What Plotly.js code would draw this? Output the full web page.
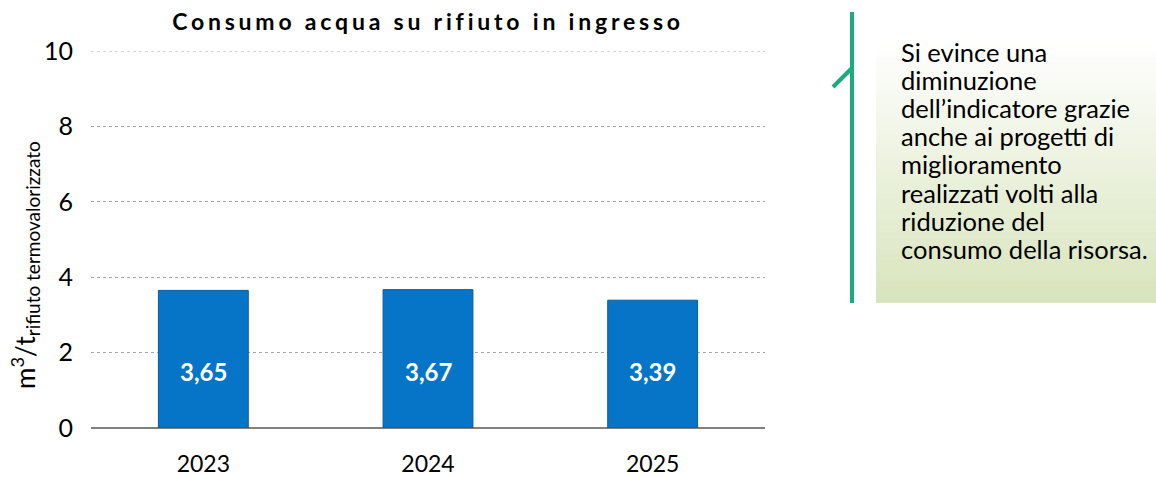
<!DOCTYPE html>
<html><head><meta charset="utf-8">
<script src="https://cdn.plot.ly/plotly-3.0.1.min.js"></script>
<style>
html,body{margin:0;padding:0;background:#fff;}
#chart{width:1156px;height:477px;}
.gtitle{letter-spacing:3.8px;}
</style>
</head><body>
<div id="chart"></div>
<script>
const years = ['2023','2024','2025'];
const values = [3.65, 3.67, 3.39];
const valueLabels = ['3,65','3,67','3,39'];
const chartTitle = 'Consumo acqua su rifiuto in ingresso';
const yTitleMain = 'm<sup>3</sup>/t';
const yTitleSub = 'rifiuto termovalorizzato';
const noteLines = ['Si evince una','diminuzione','dell\u2019indicatore grazie','anche ai progetti di','miglioramento','realizzati volti alla','riduzione del','consumo della risorsa.'];

const W = 1156, H = 477;
const L = 91, R = 765, T = 51, B = 428;
const px = x => (x - L) / (R - L);
const py = y => (B - y) / (B - T);

const FONT = 'Lato, "Open Sans", sans-serif';
const xIdx = years.map((_, i) => i);

const shapes = [];
// gradient background of note box
const nb = 48, gTop = 40, gBot = 303;
for (let i = 0; i < nb; i++) {
  const t = (i + 0.5) / nb;
  const r = Math.round(255 + (216 - 255) * t);
  const g = Math.round(255 + (228 - 255) * t);
  const b = Math.round(255 + (188 - 255) * t);
  const y0 = gTop + (gBot - gTop) * i / nb;
  const y1 = Math.min(gTop + (gBot - gTop) * (i + 1) / nb + 0.5, gBot);
  shapes.push({type:'rect', xref:'paper', yref:'paper', x0:px(876), x1:px(1156), y0:py(y0), y1:py(y1),
    fillcolor:`rgb(${r},${g},${b})`, line:{width:0}, layer:'below'});
}
shapes.push({type:'line', xref:'paper', yref:'paper', x0:px(852), x1:px(852), y0:py(12), y1:py(303), line:{color:'#1aab80', width:4}});
shapes.push({type:'line', xref:'paper', yref:'paper', x0:px(833), x1:px(853), y0:py(87), y1:py(67), line:{color:'#1aab80', width:4}});
// top gridline at 10
shapes.push({type:'line', xref:'paper', yref:'y', x0:0, x1:1, y0:10, y1:10, line:{color:'#a6a6a6', width:1, dash:'dot'}});

const annotations = [];
values.forEach((v, i) => {
  annotations.push({x: xIdx[i], y: 1.5, xref:'x', yref:'y', text: '<b>' + valueLabels[i] + '</b>', showarrow:false,
    font:{family:FONT, size:24, color:'#ffffff'}});
});
annotations.push({xref:'paper', yref:'paper', x: px(25), y: py(265), xanchor:'center', yanchor:'middle',
  text: yTitleMain + '<sub><span style="font-size:19px">' + yTitleSub + '</span></sub>', textangle:-90, showarrow:false,
  font:{family:FONT, size:26, color:'#000'}});
noteLines.forEach((ln, i) => {
  annotations.push({xref:'paper', yref:'paper', x: px(899), y: py(52 + i * 28.1), xanchor:'left', yanchor:'middle',
    text: ln, showarrow:false, font:{family:FONT, size:25.5, color:'#000'}});
});

const trace = {
  type:'bar', x: xIdx, y: values, width: 0.4,
  marker:{color:'#0775c7', line:{color:'#0a5a9a', width:1}},
  hoverinfo:'none'
};

const layout = {
  width:W, height:H,
  margin:{l:L, r:W-R, t:T, b:H-B, pad:0},
  paper_bgcolor:'#fff', plot_bgcolor:'#fff',
  showlegend:false,
  title:{text:'<b>' + chartTitle + '</b>', x: px(428), xref:'paper', xanchor:'center', y: 1 - 22/H, yanchor:'middle',
    font:{family:FONT, size:23, color:'#000'}},
  xaxis:{range:[-0.5, 2.5], autorange:false, tickmode:'array', tickvals:xIdx, ticktext:years,
    showgrid:false, showline:false, zeroline:false, ticks:'', ticklabelstandoff:20,
    tickfont:{family:FONT, size:23, color:'#000'}},
  yaxis:{range:[0,10], autorange:false, dtick:2, tick0:0, showgrid:true, gridcolor:'#a6a6a6', griddash:'dot', gridwidth:1,
    zeroline:true, zerolinecolor:'#808080', zerolinewidth:1.5, showline:false, ticks:'', ticklabelstandoff:17,
    tickfont:{family:FONT, size:25, color:'#000'}},
  shapes, annotations
};
Plotly.newPlot('chart', [trace], layout, {displayModeBar:false, staticPlot:true});
</script>
</body></html>
